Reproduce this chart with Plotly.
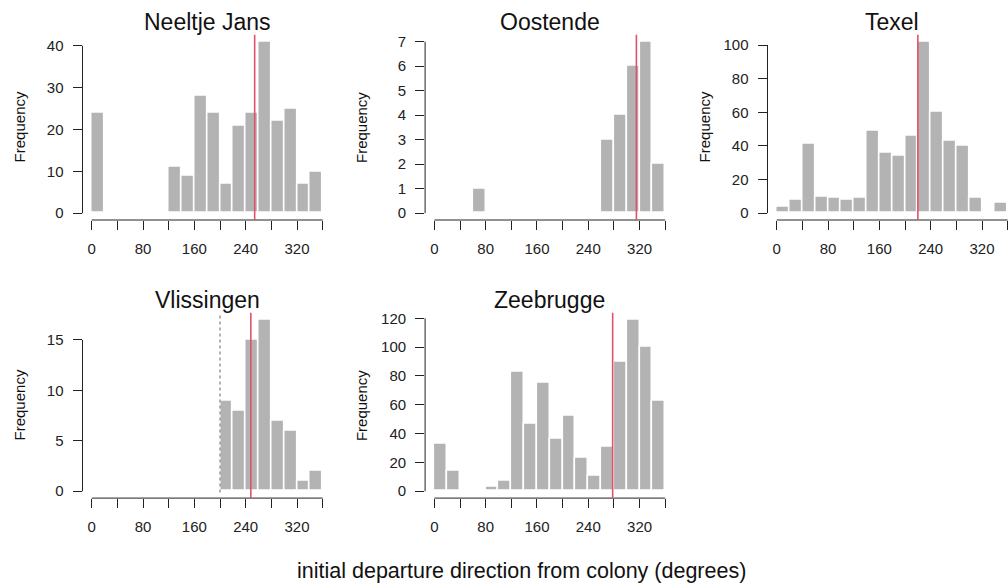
import plotly.graph_objects as go

W, H = 1008, 587

# ---- data (20-degree bins, 0-360) ----
bin_centers = [10, 30, 50, 70, 90, 110, 130, 150, 170, 190, 210, 230, 250, 270, 290, 310, 330, 350]

neeltje_counts = [24, 0, 0, 0, 0, 0, 11, 9, 28, 24, 7, 21, 24, 41, 22, 25, 7, 10]
oostende_counts = [0, 0, 0, 1, 0, 0, 0, 0, 0, 0, 0, 0, 0, 3, 4, 6, 7, 2]
texel_counts = [4, 8, 41, 10, 9, 8, 9, 49, 36, 34, 46, 102, 60, 43, 40, 9, 0, 6]
vlissingen_counts = [0, 0, 0, 0, 0, 0, 0, 0, 0, 0, 9, 8, 15, 17, 7, 6, 1, 2]
zeebrugge_counts = [33, 14, 0, 0, 3, 7, 83, 47, 75, 36, 52, 23, 11, 31, 90, 119, 100, 63]

colony_names = ["Neeltje Jans", "Oostende", "Texel", "Vlissingen", "Zeebrugge"]
mean_direction = [254, 315, 220, 248, 278]
dotted_direction = [None, None, None, 200, None]

x_tick_vals = [0, 40, 80, 120, 160, 200, 240, 280, 320, 360]
x_tick_text = ["0", "", "80", "", "160", "", "240", "", "320", ""]

y_tick_vals = [
    [0, 10, 20, 30, 40],
    [0, 1, 2, 3, 4, 5, 6, 7],
    [0, 20, 40, 60, 80, 100],
    [0, 5, 10, 15],
    [0, 20, 40, 60, 80, 100, 120],
]

all_counts = [neeltje_counts, oostende_counts, texel_counts, vlissingen_counts, zeebrugge_counts]

# ---- layout geometry (pixels) ----
col_left = [82.5, 425.1, 767.5]
col_width = 249.4
row_top = [32.0, 312.0]
row_height = 186.5
FONT = "Liberation Sans, Arial, Helvetica, sans-serif"

positions = [(0, 0), (0, 1), (0, 2), (1, 0), (1, 1)]

fig = go.Figure()
annotations = []
shapes = []

for i, name in enumerate(colony_names):
    r, c = positions[i]
    ax = "" if i == 0 else str(i + 1)
    xref = "x" + ax
    yref = "y" + ax
    counts = all_counts[i]
    ymax = max(counts)

    x0p = col_left[c]
    x1p = min(col_left[c] + col_width, W)
    pxdeg = col_width / 388.8
    xr_lo = -14.4
    xr_hi = xr_lo + (x1p - x0p) / pxdeg

    dom_x = [x0p / W, x1p / W]
    dom_y = [1 - (row_top[r] + row_height) / H, 1 - row_top[r] / H]

    fig.add_trace(go.Bar(
        x=bin_centers, y=counts, width=20,
        marker=dict(color="#B3B3B3", line=dict(color="white", width=1.6)),
        xaxis=xref, yaxis=yref, showlegend=False, hoverinfo="x+y",
    ))

    common = dict(showgrid=False, zeroline=False, showline=False, ticks="outside",
                  ticklen=9, tickwidth=1, tickcolor="#222",
                  tickfont=dict(family=FONT, size=15, color="#222"))
    fig.layout["xaxis" + ax] = dict(domain=dom_x, range=[xr_lo, xr_hi], tickvals=x_tick_vals,
                                    ticktext=x_tick_text, anchor=yref, ticklabelstandoff=6,
                                    **common)
    fig.layout["yaxis" + ax] = dict(domain=dom_y, range=[-0.04 * ymax, 1.04 * ymax],
                                    tickvals=y_tick_vals[i], anchor=xref, ticklabelstandoff=6,
                                    **common)

    # R-style axis lines spanning first..last tick
    shapes.append(dict(type="line", xref=xref, yref=yref + " domain", x0=0, x1=360, y0=0, y1=0,
                       line=dict(color="#222", width=1)))
    shapes.append(dict(type="line", xref=xref + " domain", yref=yref, x0=0, x1=0,
                       y0=0, y1=y_tick_vals[i][-1], line=dict(color="#222", width=1)))
    # mean direction line
    shapes.append(dict(type="line", xref=xref, yref=yref + " domain",
                       x0=mean_direction[i], x1=mean_direction[i], y0=0, y1=1,
                       line=dict(color="#DF536B", width=1.6)))
    if dotted_direction[i] is not None:
        shapes.append(dict(type="line", xref=xref, yref=yref + " domain",
                           x0=dotted_direction[i], x1=dotted_direction[i], y0=0.03, y1=1,
                           line=dict(color="#9A9A9A", width=1.5, dash="dot")))

    # title
    cx = (col_left[c] + col_left[c] + col_width) / 2
    annotations.append(dict(text=name, x=cx / W, y=1 - (row_top[r] - 12.5) / H,
                            xref="paper", yref="paper", showarrow=False,
                            xanchor="center", yanchor="middle",
                            font=dict(family=FONT, size=23, color="#111")))
    # y label
    annotations.append(dict(text="Frequency", x=(col_left[c] - 63.5) / W,
                            y=1 - (row_top[r] + row_height / 2) / H,
                            xref="paper", yref="paper", showarrow=False, textangle=-90,
                            xanchor="center", yanchor="middle",
                            font=dict(family=FONT, size=15, color="#111")))

annotations.append(dict(text="initial departure direction from colony (degrees)",
                        x=521.7 / W, y=1 - 572 / H, xref="paper", yref="paper",
                        showarrow=False, xanchor="center", yanchor="middle",
                        font=dict(family=FONT, size=21.5, color="#111")))

fig.update_layout(
    width=W, height=H, margin=dict(l=0, r=0, t=0, b=0),
    paper_bgcolor="white", plot_bgcolor="white",
    bargap=0, annotations=annotations, shapes=shapes,
)

fig.write_html("out.html")
